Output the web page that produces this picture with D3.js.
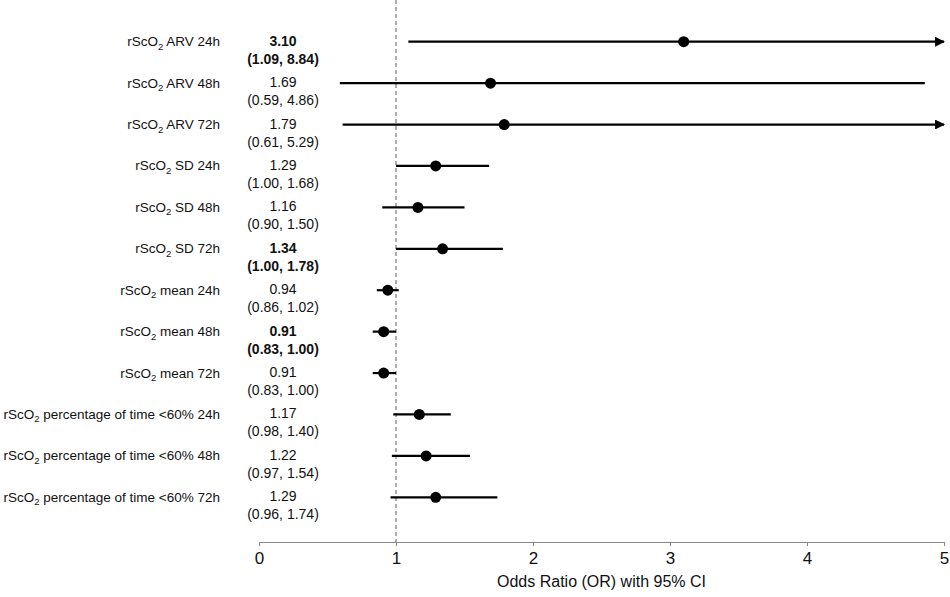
<!DOCTYPE html>
<html>
<head>
<meta charset="utf-8">
<script src="https://cdn.jsdelivr.net/npm/d3@7"></script>
<style>
  body { margin: 0; background: #fff; }
  svg text { font-family: "Liberation Sans", Arial, sans-serif; fill: #111; }
</style>
</head>
<body>
<div id="chart"></div>
<script>
// row labels (subscript 2 handled when drawing)
var measures = ["ARV 24h", "ARV 48h", "ARV 72h",
  "SD 24h", "SD 48h", "SD 72h",
  "mean 24h", "mean 48h", "mean 72h",
  "percentage of time <60% 24h", "percentage of time <60% 48h", "percentage of time <60% 72h"];
var oddsRatio = [3.10, 1.69, 1.79, 1.29, 1.16, 1.34, 0.94, 0.91, 0.91, 1.17, 1.22, 1.29];
var ciLower  = [1.09, 0.59, 0.61, 1.00, 0.90, 1.00, 0.86, 0.83, 0.83, 0.98, 0.97, 0.96];
var ciUpper  = [8.84, 4.86, 5.29, 1.68, 1.50, 1.78, 1.02, 1.00, 1.00, 1.40, 1.54, 1.74];
var significant = [true, false, false, false, false, true, false, true, false, false, false, false];
var xTicks = [0, 1, 2, 3, 4, 5];

var data = measures.map(function (m, i) {
  return { name: m, or: oddsRatio[i], lo: ciLower[i], hi: ciUpper[i], sig: significant[i] };
});

var W = 950, H = 597;
var svg = d3.select("#chart").append("svg")
  .attr("width", W).attr("height", H);

svg.append("defs").append("marker")
  .attr("id", "arrow")
  .attr("viewBox", "0 0 10 10")
  .attr("refX", 9).attr("refY", 5)
  .attr("markerWidth", 4.5).attr("markerHeight", 4.5)
  .attr("markerUnits", "strokeWidth")
  .attr("orient", "auto")
  .append("path")
  .attr("d", "M0,0L10,5L0,10Z")
  .attr("fill", "#000");

var x = d3.scaleLinear().domain([0, 5]).range([259, 944]);
var y = d3.scaleBand().domain(measures).range([21, 518]);
var yc = function (d) { return y(d) + y.bandwidth() / 2; };

// reference line at OR = 1
svg.append("line")
  .attr("x1", x(1)).attr("x2", x(1))
  .attr("y1", 0).attr("y2", 542)
  .attr("stroke", "#777").attr("stroke-width", 1.2)
  .attr("stroke-dasharray", "4,3");

// x axis
var ax = svg.append("g")
  .attr("transform", "translate(0,542)")
  .call(d3.axisBottom(x).tickValues(xTicks).tickFormat(d3.format("d")).tickSize(4).tickSizeOuter(0));
ax.select(".domain").attr("stroke", "#888");
ax.selectAll(".tick line").attr("stroke", "#888");
ax.selectAll(".tick text")
  .attr("y", 10)
  .style("font-size", "17px")
  .style("font-family", "Liberation Sans, Arial, sans-serif")
  .attr("fill", "#111");

svg.append("text")
  .attr("x", (x.range()[0] + x.range()[1]) / 2)
  .attr("y", 587)
  .attr("text-anchor", "middle")
  .style("font-size", "16px")
  .text("Odds Ratio (OR) with 95% CI");

// CI lines
svg.selectAll(".ci").data(data).enter().append("line")
  .attr("class", "ci")
  .attr("x1", function (d) { return x(d.lo); })
  .attr("x2", function (d) { return x(Math.min(d.hi, 5)); })
  .attr("y1", function (d) { return yc(d.name); })
  .attr("y2", function (d) { return yc(d.name); })
  .attr("stroke", "#000").attr("stroke-width", 2.2)
  .attr("marker-end", function (d) { return d.hi > 5 ? "url(#arrow)" : null; });

// point estimates
svg.selectAll(".pt").data(data).enter().append("circle")
  .attr("class", "pt")
  .attr("cx", function (d) { return x(d.or); })
  .attr("cy", function (d) { return yc(d.name); })
  .attr("r", 5.5)
  .attr("fill", "#000");

// row labels
var lab = svg.selectAll(".lab").data(data).enter().append("text")
  .attr("class", "lab")
  .attr("x", 220)
  .attr("y", function (d) { return yc(d.name) + 4.5; })
  .attr("text-anchor", "end")
  .style("font-size", "13.5px");
lab.append("tspan").text("rScO");
lab.append("tspan").attr("dy", 3.5).style("font-size", "9.5px").text("2");
lab.append("tspan").attr("dy", -3.5).text(function (d) { return " " + d.name; });

// OR and CI text
svg.selectAll(".ortxt").data(data).enter().append("text")
  .attr("class", "ortxt")
  .attr("x", 283)
  .attr("y", function (d) { return yc(d.name) + 4; })
  .attr("text-anchor", "middle")
  .style("font-size", "14px")
  .style("font-weight", function (d) { return d.sig ? "bold" : "normal"; })
  .text(function (d) { return d.or.toFixed(2); });

svg.selectAll(".citxt").data(data).enter().append("text")
  .attr("class", "citxt")
  .attr("x", 283)
  .attr("y", function (d) { return yc(d.name) + 22; })
  .attr("text-anchor", "middle")
  .style("font-size", "14px")
  .style("font-weight", function (d) { return d.sig ? "bold" : "normal"; })
  .text(function (d) { return "(" + d.lo.toFixed(2) + ", " + d.hi.toFixed(2) + ")"; });
</script>
</body>
</html>
